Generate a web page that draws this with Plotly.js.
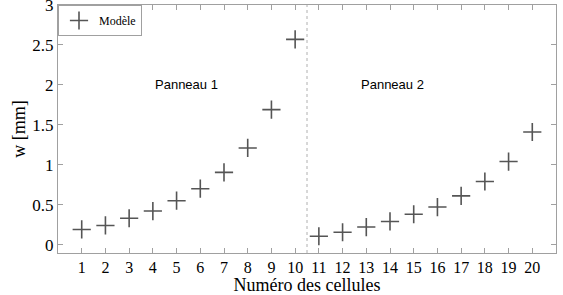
<!DOCTYPE html>
<html><head><meta charset="utf-8">
<script src="https://cdn.plot.ly/plotly-3.0.1.min.js"></script>
<style>html,body{margin:0;padding:0;background:#fff}#c{width:563px;height:295px}</style>
</head><body><div id="c"></div>
<script>
const cells = [1,2,3,4,5,6,7,8,9,10,11,12,13,14,15,16,17,18,19,20];
const w_mm = [0.19,0.24,0.33,0.42,0.55,0.70,0.905,1.21,1.69,2.57,0.105,0.155,0.22,0.29,0.38,0.47,0.61,0.79,1.04,1.41];
const yTicks = [0,0.5,1,1.5,2,2.5,3];
const yTickText = ['0','0.5','1','1.5','2','2.5','3'];
const panelLabels = ["Panneau 1","Panneau 2"];
const panelLabelX = [5.4, 14.1];
const panelLabelY = [2.0, 2.0];
const panelDivider = [10.5];
const seriesName = "Modèle";

const serif = 'Liberation Serif, Times New Roman, serif';
const axisCol = '#a0a0a0';
const trace = {
  x: cells, y: w_mm, mode: 'markers', type: 'scatter', name: seriesName,
  marker: {symbol: 'cross-thin-open', size: 13, color: '#555', line: {width: 1.6, color: '#555'}},
  showlegend: true
};
const layout = {
  width: 563, height: 295,
  margin: {l: 58, r: 7, t: 5, b: 42},
  paper_bgcolor: '#fff', plot_bgcolor: '#fff',
  showlegend: true,
  legend: {x: 0, y: 1, xanchor: 'left', yanchor: 'top', bgcolor: '#fff', bordercolor: axisCol, borderwidth: 1,
    font: {family: serif, size: 12, color: '#000'},
    itemwidth: 30, tracegroupgap: 0},
  xaxis: {range: [0, 21], tickvals: cells, ticktext: cells.map(String), ticks: 'inside', ticklen: 5, tickcolor: axisCol,
    showline: true, linecolor: axisCol, linewidth: 1, mirror: 'ticks', showgrid: false, zeroline: false,
    tickfont: {family: serif, size: 16, color: '#000'},
    title: {text: 'Numéro des cellules', font: {family: serif, size: 18, color: '#000'}, standoff: 0}},
  yaxis: {range: [-0.105, 3], tickvals: yTicks, ticktext: yTickText, ticklabeloverflow: 'allow',
    ticks: 'inside', ticklen: 5, tickcolor: axisCol,
    showline: true, linecolor: axisCol, linewidth: 1, mirror: 'ticks', showgrid: false, zeroline: false,
    tickfont: {family: serif, size: 17, color: '#000'},
    title: {text: 'w [mm]', font: {family: serif, size: 18, color: '#000'}, standoff: 2}},
  shapes: panelDivider.map(v => ({type: 'line', xref: 'x', yref: 'paper', x0: v, x1: v, y0: 0, y1: 1,
    line: {color: '#b0b0b0', width: 1, dash: 'dot'}})),
  annotations: panelLabels.map((t, i) => ({text: t, x: panelLabelX[i], y: panelLabelY[i], xref: 'x', yref: 'y',
    showarrow: false, font: {family: 'Liberation Sans, Arial, sans-serif', size: 13, color: '#000'}}))
};
Plotly.newPlot('c', [trace], layout, {displayModeBar: false, staticPlot: true});
</script></body></html>
